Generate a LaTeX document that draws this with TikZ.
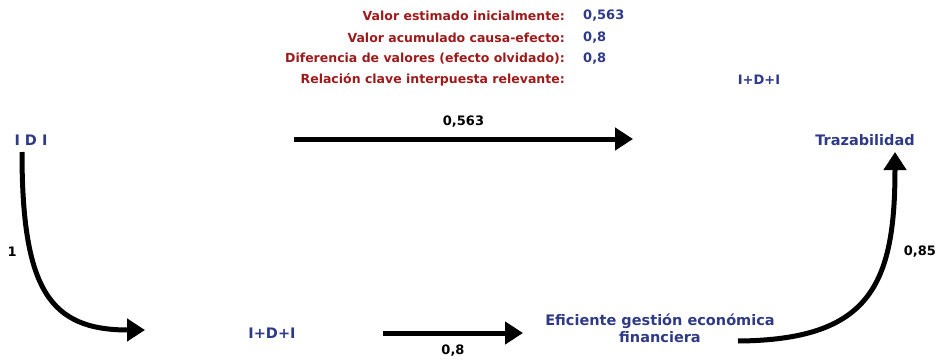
\documentclass[tikz,border=0pt]{standalone}
\usepackage{fontspec}
\setmainfont{DejaVu Sans}
\usepackage{xcolor}
\usepackage{tikz}
\usetikzlibrary{arrows.meta,positioning}
\definecolor{darkred}{HTML}{9E1A1A}
\definecolor{navyblue}{HTML}{2E3A87}
\tikzstyle{concept} = [text=navyblue, font=\bfseries\fontsize{14.5}{17}\selectfont, inner sep=2pt]
\tikzstyle{legend} = [text=darkred, font=\bfseries\fontsize{12.5}{14}\selectfont, anchor=east, inner sep=0pt]
\tikzstyle{value} = [text=navyblue, font=\bfseries\fontsize{13}{15}\selectfont, anchor=west, inner sep=0pt]
\tikzstyle{weight} = [text=black, font=\bfseries\fontsize{13}{15}\selectfont]
\tikzstyle{line} = [draw, line width=5pt, -{Triangle[length=18pt,width=22pt]}]

\begin{document}
\begin{tikzpicture}[x=1pt, y=-1pt]
        \useasboundingbox (0,0) rectangle (943,361);

        % Legend
        \node [legend] (estimado) at (565,16) {Valor estimado inicialmente:};
        \node [legend] (acumulado) at (565,38) {Valor acumulado causa-efecto:};
        \node [legend] (diferencia) at (565,59) {Diferencia de valores (efecto olvidado):};
        \node [legend] (relacion) at (565,80) {Relación clave interpuesta relevante:};
        \node [value] (vestimado) at (583,16) {0,563};
        \node [value] (vacumulado) at (583,38) {0,8};
        \node [value] (vdiferencia) at (583,59) {0,8};
        \node [value, anchor=center] (vrelacion) at (759,80) {I+D+I};

        % Place nodes
        \node [concept] (idi) at (31,140) {I D I};
        \node [concept] (traz) at (865,140) {Trazabilidad};
        \node [concept] (idimas) at (272,333) {I+D+I};
        \node [concept, align=center] (gestion) at (660,328) {Eficiente gestión económica\\financiera};

        % Arrow ends
        \coordinate (idiout) at (22,152);
        \coordinate (idimasin) at (145,330);
        \coordinate (topfrom) at (294,139);
        \coordinate (topto) at (633,139);
        \coordinate (botfrom) at (383,333);
        \coordinate (botto) at (523,333);
        \coordinate (gestionout) at (738,341);
        \coordinate (trazin) at (895,152);

        % Draw edges
        \path [line] (topfrom) -- node[weight, above=6pt] {0,563} (topto);
        \path [line] (botfrom) -- node[weight, below=6pt] {0,8} (botto);
        \path [line] (idiout) .. controls (22,290) and (50,330) .. node[weight, pos=0.3, left=8pt] {1} (idimasin);
        \path [line] (gestionout) .. controls (870,340) and (895,285) .. node[weight, pos=0.7, right=12pt] {0,85} (trazin);
    \end{tikzpicture}
\end{document}
